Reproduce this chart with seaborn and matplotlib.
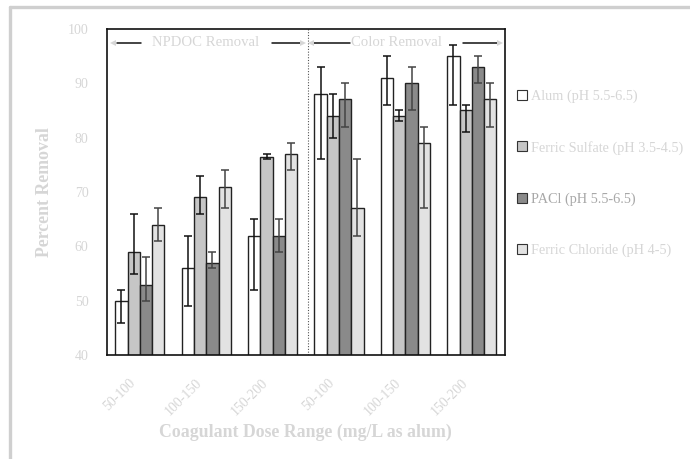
import matplotlib
matplotlib.use("Agg")
import matplotlib.pyplot as plt
import matplotlib.transforms as mtransforms
from matplotlib.lines import Line2D
from matplotlib.patches import Patch
import numpy as np
import pandas as pd
import seaborn as sns

# ---- data -------------------------------------------------------------
groups = ["NPDOC 50-100", "NPDOC 100-150", "NPDOC 150-200",
          "Color 50-100", "Color 100-150", "Color 150-200"]
group_labels = ["50-100", "100-150", "150-200", "50-100", "100-150", "150-200"]
coagulants = ["Alum (pH 5.5-6.5)", "Ferric Sulfate (pH 3.5-4.5)",
              "PACl (pH 5.5-6.5)", "Ferric Chloride (pH 4-5)"]

alum = [50, 56, 62, 88, 91, 95]
alum_lo = [46, 49, 52, 76, 86, 86]
alum_hi = [52, 62, 65, 93, 95, 97]

ferric_sulfate = [59, 69, 76.5, 84, 84, 85]
ferric_sulfate_lo = [55, 66, 76, 80, 83, 81]
ferric_sulfate_hi = [66, 73, 77, 88, 85, 86]

pacl = [53, 57, 62, 87, 90, 93]
pacl_lo = [50, 56, 59, 82, 85, 90]
pacl_hi = [58, 59, 65, 90, 93, 95]

ferric_chloride = [64, 71, 77, 67, 79, 87]
ferric_chloride_lo = [61, 67, 74, 62, 67, 82]
ferric_chloride_hi = [67, 74, 79, 76, 82, 90]

values = [alum, ferric_sulfate, pacl, ferric_chloride]
lows = [alum_lo, ferric_sulfate_lo, pacl_lo, ferric_chloride_lo]
highs = [alum_hi, ferric_sulfate_hi, pacl_hi, ferric_chloride_hi]

df = pd.DataFrame({
    "group": np.tile(groups, len(coagulants)),
    "coagulant": np.repeat(coagulants, len(groups)),
    "value": np.concatenate(values),
})

# ---- style ------------------------------------------------------------
sns.set_style("white")
plt.rcParams["font.family"] = ["Liberation Serif", "DejaVu Serif"]

fills = ["#ffffff", "#c6c6c6", "#8a8a8a", "#e2e2e2"]
err_colors = ["#111111", "#111111", "#444444", "#444444"]
faint = "#d6d6d6"

fig = plt.figure(figsize=(6.9, 4.59), dpi=100)
ax = fig.add_axes([0.1546, 0.2255, 0.5773, 0.7124])

sns.barplot(data=df, x="group", y="value", hue="coagulant",
            order=groups, hue_order=coagulants, palette=fills,
            errorbar=None, width=0.74, edgecolor="#222222",
            linewidth=1.0, legend=False, ax=ax)

# asymmetric error bars at each bar centre
bar_containers = list(ax.containers)
for i, cont in enumerate(bar_containers):
    xs = [p.get_x() + p.get_width() / 2 for p in cont]
    v = np.array(values[i], dtype=float)
    yerr = [v - np.array(lows[i]), np.array(highs[i]) - v]
    ax.errorbar(xs, v, yerr=yerr, fmt="none", ecolor=err_colors[i],
                elinewidth=1.1, capsize=3.2, capthick=1.1, zorder=4)

ax.set_ylim(40, 100)
ax.set_xlim(-0.5, 5.5)
ax.set_yticks([40, 50, 60, 70, 80, 90, 100])
ax.tick_params(axis="y", which="major", direction="out", length=5,
               width=1, color="#111111", labelsize=10, labelcolor=faint,
               pad=8)

# group labels at centres, tick marks at group boundaries
ax.set_xticks(range(len(groups)))
ax.set_xticklabels(group_labels, rotation=45, ha="right",
                   rotation_mode="anchor")
ax.tick_params(axis="x", which="major", length=0, labelsize=10,
               labelcolor=faint, pad=15)
ax.set_xticks(np.arange(-0.5, 6.0, 1.0), minor=True)
ax.tick_params(axis="x", which="minor", direction="out", length=5,
               width=1, color="#111111")
shift = mtransforms.ScaledTranslation(-11 / 100, 0, fig.dpi_scale_trans)
for lab in ax.get_xticklabels():
    lab.set_transform(lab.get_transform() + shift)

for side in ["top", "right", "bottom", "left"]:
    ax.spines[side].set_visible(True)
    ax.spines[side].set_color("#111111")
    ax.spines[side].set_linewidth(1.2)
ax.grid(False)

ax.set_xlabel("Coagulant Dose Range (mg/L as alum)", fontsize=12.8,
              fontweight="bold", color=faint, labelpad=4)
ax.set_ylabel("Percent Removal", fontsize=12.8, fontweight="bold",
              color=faint, labelpad=11)

# section divider between NPDOC and colour results
ax.axvline(2.54, color="#555555", linestyle=(0, (1, 1.5)), linewidth=0.8,
           zorder=1)

# section headers with arrows
y_hdr = 97.4
for text, xc, left_line, left_head, right_line, right_head in [
    ("NPDOC Removal", 0.99, (-0.345, 0.02), -0.40, (1.99, 2.41), 2.45),
    ("Color Removal", 3.86, (2.62, 3.16), 2.58, (4.87, 5.38), 5.43),
]:
    ax.text(xc, y_hdr, text, ha="center", va="center", fontsize=10.6,
            color=faint)
    ax.plot(left_line, [y_hdr, y_hdr], color="#111111", lw=1.1)
    ax.plot(right_line, [y_hdr, y_hdr], color="#111111", lw=1.1)
    ax.plot([left_head], [y_hdr], marker="<", ms=4, color=faint,
            markeredgewidth=0)
    ax.plot([right_head], [y_hdr], marker=">", ms=4, color=faint,
            markeredgewidth=0)

# legend
handles = [Patch(facecolor=c, edgecolor="#333333", linewidth=0.8)
           for c in fills]
leg = fig.legend(handles, coagulants, loc="upper left",
                 bbox_to_anchor=(0.741, 0.818), frameon=False,
                 fontsize=10.3, handlelength=0.7, handleheight=0.7,
                 handletextpad=0.3, labelspacing=2.65, borderaxespad=0)
for t, col in zip(leg.get_texts(), [faint, faint, "#a8a8a8", faint]):
    t.set_color(col)

# page frame on the top and left edges
fig.add_artist(Line2D([0.015, 1.0], [0.985, 0.985], color="#cfcfcf",
                      lw=2.4, transform=fig.transFigure))
fig.add_artist(Line2D([0.015, 0.015], [0.0, 0.985], color="#cfcfcf",
                      lw=2.4, transform=fig.transFigure))

fig.savefig("out.png", dpi=100)
